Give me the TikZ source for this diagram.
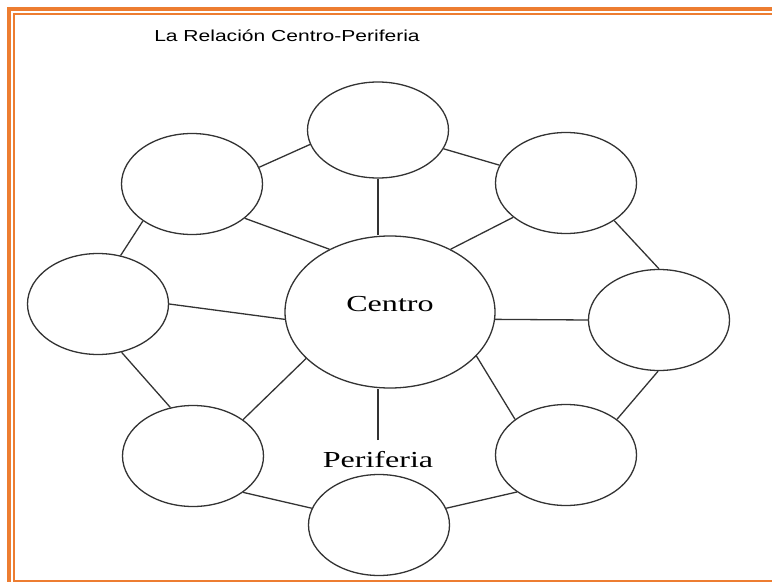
\documentclass[tikz,border=0pt]{standalone}
\usepackage{fontspec}
\usepackage{graphicx}
\setmainfont{Liberation Serif}
\newfontfamily\titlefont{Liberation Sans}
\usetikzlibrary{shapes.geometric}
\definecolor{marco}{RGB}{237,125,49}
\newcommand{\ancho}[1]{\scalebox{1.4}[1]{#1}}

\begin{document}
\begin{tikzpicture}[x=1bp, y=-1bp, line width=1.3bp,
    circ/.style={ellipse, draw=black!80, minimum width=141bp, minimum height=101bp, inner sep=0pt},
    hub/.style={ellipse, draw=black!80, minimum width=210bp, minimum height=152bp, inner sep=0pt},
    rotulo/.style={font=\fontsize{23}{23}\selectfont},
    every edge/.append style={draw=black!80}]
    \useasboundingbox (0,0) rectangle (772,582);
    \clip (0,0) rectangle (772,582);
    %
    \draw[marco, line width=4bp] (9,9) rectangle (800,610);
    \draw[marco, line width=2bp] (14,14) rectangle (800,581);
    \node [font=\titlefont\fontsize{16}{16}\selectfont, anchor=base] (titulo) at (287,41.5)
        {\scalebox{1.32}[1]{La Relación Centro-Periferia}};
    %
    \node [hub, label={[rotulo, yshift=8bp]center:\ancho{Centro}}] (centro) at (390,312) {};
    \node [circ, minimum height=96bp] (arriba) at (378,130) {};
    \node [circ] (izqarriba) at (192,184) {};
    \node [circ] (derarriba) at (566,183) {};
    \node [circ] (izq) at (98,304) {};
    \node [circ] (der) at (659,320) {};
    \node [circ] (izqabajo) at (193,456) {};
    \node [circ] (derabajo) at (566,455) {};
    \node [circ] (abajo) at (379,525) {};
    \node [rotulo, inner ysep=11bp] (peri) at (378,460) {\ancho{Periferia}};
    %
    \path (arriba.south) edge (arriba.south |- centro.north);
    \path (izqarriba.-33) edge (centro.134);
    \path (derarriba.-147) edge (centro.46);
    \path (izq.0) edge (centro.-176);
    \path (der.180) edge (centro.-4);
    \path (izqabajo.36) edge (centro.-151);
    \path (derabajo.145) edge (centro.-27);
    \path (peri.north) edge (peri.north |- centro.south);
    %
    \path (arriba.192) edge (izqarriba.14);
    \path (arriba.-16) edge (derarriba.165);
    \path (izqarriba.-143) edge (izq.65);
    \path (derarriba.-38) edge (der.90);
    \path (izq.-64) edge (izqabajo.115);
    \path (der.-91) edge (derabajo.35);
    \path (izqabajo.-36) edge (abajo.166);
    \path (derabajo.-143) edge (abajo.14);
\end{tikzpicture}
\end{document}
